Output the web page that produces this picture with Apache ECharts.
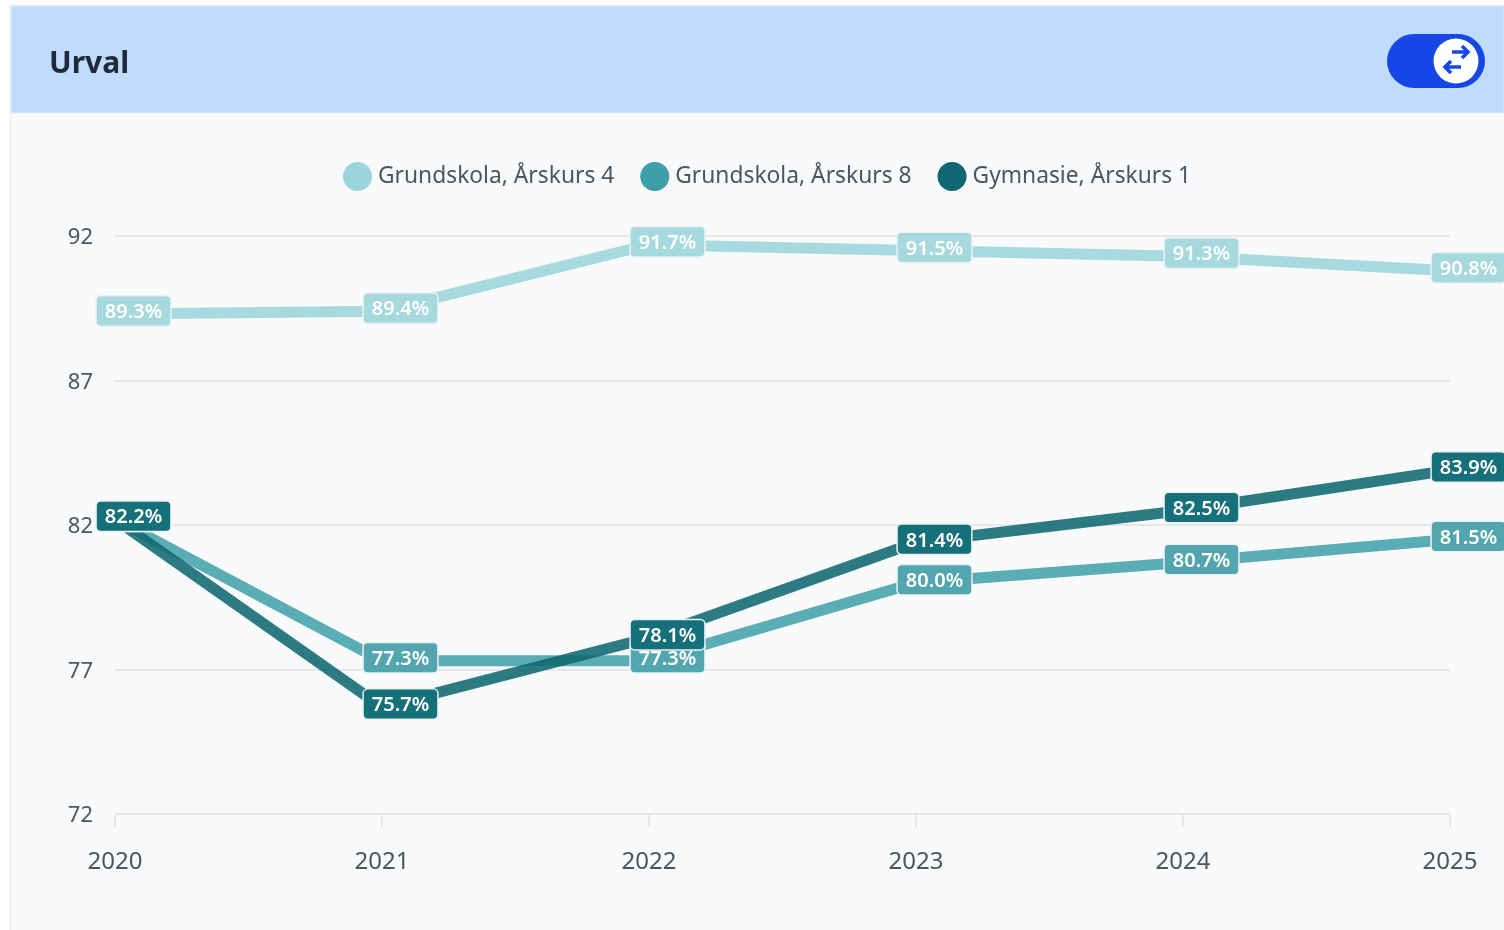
<!DOCTYPE html>
<html>
<head>
<meta charset="utf-8">
<title>Urval</title>
<script src="https://cdn.jsdelivr.net/npm/echarts@6/dist/echarts.min.js"></script>
<style>
    html, body { margin: 0; padding: 0; background: #fff; }
    #chart { width: 1504px; height: 930px; }
</style>
</head>
<body>
<div id="chart"></div>
<script>
const years = ['2020', '2021', '2022', '2023', '2024', '2025'];
const yTicks = [72, 77, 82, 87, 92];
const arskurs4 = [89.3, 89.4, 91.7, 91.5, 91.3, 90.8];
const arskurs8 = [82.2, 77.3, 77.3, 80.0, 80.7, 81.5];
const gymnasie = [82.2, 75.7, 78.1, 81.4, 82.5, 83.9];

const fontName = '"Noto Sans", sans-serif';

function makeSeries(name, values, color, labelColor, opacity) {
    return {
        name: name,
        type: 'line',
        data: values,
        symbol: 'circle',
        symbolSize: 1,
        showAllSymbol: true,
        animation: false,
        lineStyle: { width: 11, color: color, opacity: opacity, cap: 'butt', join: 'miter' },
        itemStyle: { color: color },
        label: {
            show: true,
            position: 'inside',
            offset: [18.5, -3],
            formatter: (p) => '{v|' + p.value.toFixed(1) + '%}',
            backgroundColor: labelColor,
            borderColor: '#e9f1f3',
            borderWidth: 1.5,
            borderRadius: 4,
            padding: [0, 8, 0, 8],
            rich: {
                v: {
                    color: '#fff',
                    fontFamily: fontName,
                    fontSize: 20,
                    fontWeight: 600,
                    lineHeight: 29,
                    padding: [3, 0, 0, 0]
                }
            }
        }
    };
}

const chart = echarts.init(document.getElementById('chart'));

chart.setOption({
    backgroundColor: '#ffffff',
    animation: false,
    graphic: [
        { type: 'rect', z: -10, shape: { x: 10.5, y: 6, width: 1500, height: 930 }, style: { fill: '#f9fafb', stroke: '#e9ebef', lineWidth: 1.5 } },
        { type: 'rect', z: -9, shape: { x: 11, y: 6, width: 1493, height: 107 }, style: { fill: '#bfdbfe', stroke: '#e5e7eb', lineWidth: 1 } },
        { type: 'text', z: 5, left: 49, top: 44, style: { text: 'Urval', fill: '#1f2937', font: '700 30px "Noto Sans", sans-serif', verticalAlign: 'top', lineHeight: 40 } },
        { type: 'rect', z: 5, shape: { x: 1387, y: 34, width: 98, height: 54, r: 27 }, style: { fill: '#1447e6' } },
        { type: 'circle', z: 6, shape: { cx: 1456, cy: 61, r: 22.5 }, style: { fill: '#ffffff' } },
        // pilarna i knappen
        { type: 'polyline', z: 7, shape: { points: [[1452, 52], [1468, 52]] }, style: { stroke: '#1447e6', lineWidth: 3.5, fill: null } },
        { type: 'polyline', z: 7, shape: { points: [[1462, 46], [1468, 52], [1462, 58]] }, style: { stroke: '#1447e6', lineWidth: 3.5, fill: null } },
        { type: 'polyline', z: 7, shape: { points: [[1445, 67], [1461, 67]] }, style: { stroke: '#1447e6', lineWidth: 3.5, fill: null } },
        { type: 'polyline', z: 7, shape: { points: [[1451, 61], [1445, 67], [1451, 73]] }, style: { stroke: '#1447e6', lineWidth: 3.5, fill: null } }
    ],
    legend: {
        left: 338,
        top: 157,
        icon: 'circle',
        itemWidth: 29,
        itemHeight: 29,
        itemGap: 26,
        textStyle: { fontFamily: fontName, fontSize: 22.8, color: '#4b5563', padding: [0, 0, 0, 1] }
    },
    grid: { left: 115, right: 54, top: 236, bottom: 116 },
    xAxis: {
        type: 'category',
        data: years,
        boundaryGap: false,
        axisLine: { lineStyle: { color: '#e5e7eb', width: 2 } },
        axisTick: { show: true, length: 13, lineStyle: { color: '#e5e7eb', width: 2 } },
        axisLabel: { color: '#4b5563', fontFamily: fontName, fontSize: 24, margin: 36 }
    },
    yAxis: {
        type: 'value',
        min: 72,
        max: 92,
        axisLine: { show: false },
        axisTick: { show: false, customValues: yTicks },
        axisLabel: { color: '#4b5563', fontFamily: fontName, fontSize: 22, margin: 22, verticalAlign: 'top', lineHeight: 4, customValues: yTicks },
        splitLine: { lineStyle: { color: '#e5e7eb', width: 2 } }
    },
    series: [
        makeSeries('Grundskola, Årskurs 4', arskurs4, '#9bd5db', '#a5d9de', 0.88),
        makeSeries('Grundskola, Årskurs 8', arskurs8, '#3f9fa8', '#53a6af', 0.85),
        makeSeries('Gymnasie, Årskurs 1', gymnasie, '#0f6871', '#16707a', 0.88)
    ]
});

window.addEventListener('resize', () => {
    chart.resize();
});
</script>
</body>
</html>
